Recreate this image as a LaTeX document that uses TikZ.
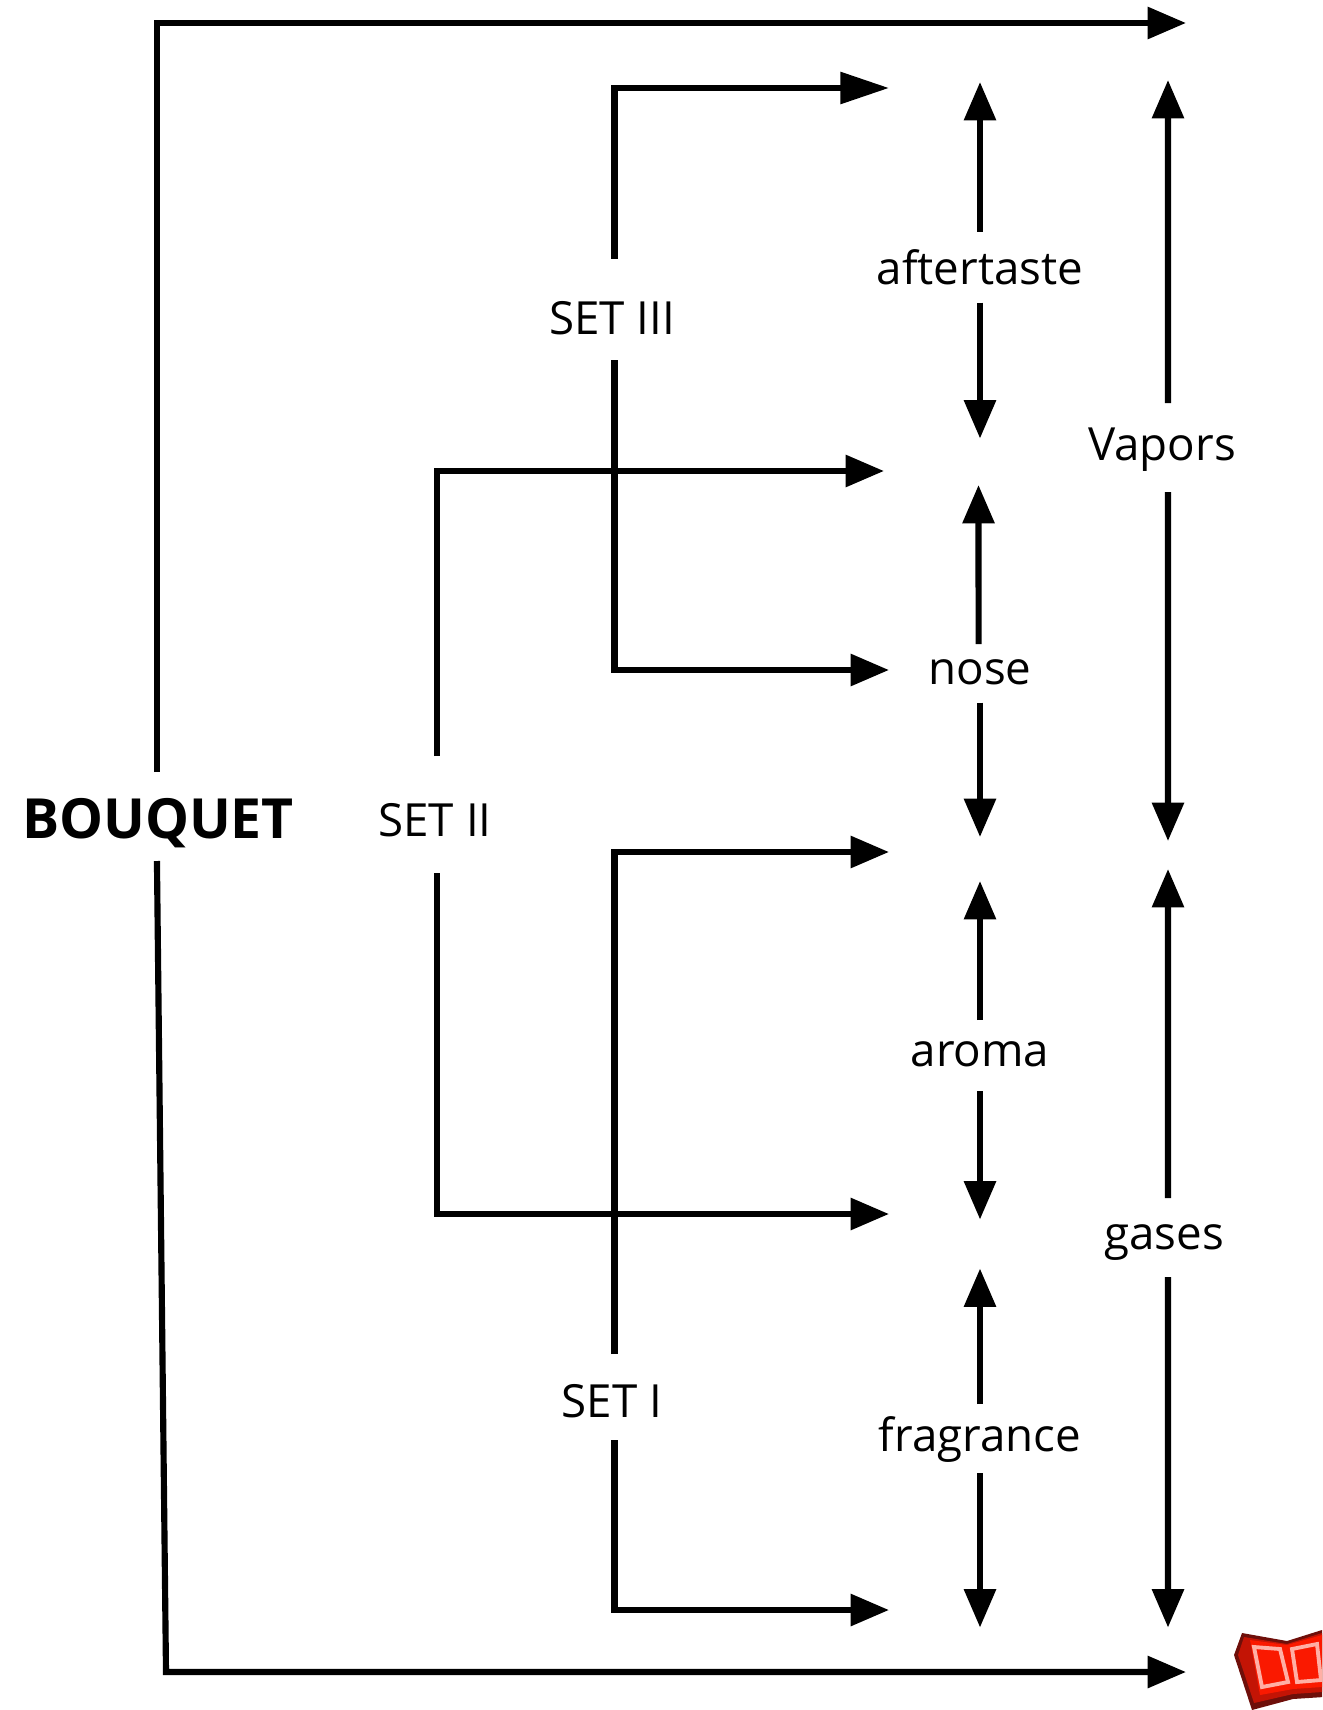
\documentclass[tikz,border=0pt]{standalone}
\usepackage{fontspec}
\setmainfont{Open Sans}
\usetikzlibrary{arrows.meta,positioning}
\definecolor{bookred}{RGB}{250,25,0}
\definecolor{bookmid}{RGB}{195,20,5}
\definecolor{bookdark}{RGB}{110,15,10}
\definecolor{bookpink}{RGB}{255,175,165}
\begin{document}
\begin{tikzpicture}[x=0.02cm, y=-0.02cm, line width=3.5pt, >={Triangle[length=21.8pt,width=17.6pt]},
  flusso/.style={draw, ->},
  etichetta/.style 2 args={anchor=base, inner sep=0pt, outer sep=0pt, font=\fontsize{26}{26}\selectfont, text height=#1*0.02cm, text depth=#2*0.02cm}]
\useasboundingbox (0,0) rectangle (1322,1710);
% etichette
\node[etichetta={66}{23}, font=\fontsize{31.5}{31.5}\selectfont\bfseries] (bouquet) at (158,838) {BOUQUET};
\node[etichetta={80}{37}] (set2) at (435,836) {SET II};
\node[etichetta={75.5}{26}] (set3) at (612,334) {SET III};
\node[etichetta={63}{23}] (set1) at (612,1417) {SET I};
\node[etichetta={52.5}{18.5}] (aftertaste) at (980,284) {aftertaste};
\node[etichetta={40}{18.5}] (nose) at (980,684) {nose};
\node[etichetta={46}{25}] (aroma) at (980,1066) {aroma};
\node[etichetta={47}{22}] (fragrance) at (980,1451) {fragrance};
\node[etichetta={57}{32}] (vapors) at (1162,460) {Vapors};
\node[etichetta={51}{28}] (gases) at (1164,1249) {gases};
% estremi delle frecce
\coordinate (topend) at (1186,23);
\coordinate (botend) at (1186,1672);
\coordinate (botcorner) at (166,1672);
\coordinate (s3a) at (889,88);
\coordinate (s2a) at (884,471);
\coordinate (s3b) at (889,670);
\coordinate (s1a) at (889,852);
\coordinate (s2b) at (889,1214);
\coordinate (s1b) at (889,1610);
% bouquet
\draw[flusso] ([xshift=-0.6pt]bouquet.north) |- (topend);
\draw[flusso] ([xshift=-0.6pt]bouquet.south) -- (botcorner) -- (botend);
% set
\draw[draw, -{Triangle[length=27.7pt,width=17.6pt]}] ([xshift=1.4pt]set3.north) |- (s3a);
\draw[flusso] ([xshift=1.4pt]set3.south) |- (s3b);
\draw[flusso] ([xshift=1.1pt]set2.north) |- (s2a);
\draw[flusso] ([xshift=1.1pt]set2.south) |- (s2b);
\draw[flusso] ([xshift=1.4pt]set1.north) |- (s1a);
\draw[flusso] ([xshift=1.4pt]set1.south) |- (s1b);
% colonna interna
\draw[flusso] (aftertaste.north) -- (980,82);
\draw[flusso] (aftertaste.south) -- (980,438.5);
\draw[flusso] ([xshift=-0.8pt]nose.north) -- (978.5,485);
\draw[flusso] (nose.south) -- (980,837);
\draw[flusso] (aroma.north) -- (980,881);
\draw[flusso] (aroma.south) -- (980,1219.5);
\draw[flusso] (fragrance.north) -- (980,1268.5);
\draw[flusso] (fragrance.south) -- (980,1627.5);
% colonna esterna
\draw[flusso] ([xshift=3.4pt]vapors.north) -- (1168,80);
\draw[flusso] ([xshift=3.4pt]vapors.south) -- (1168,841);
\draw[flusso] ([xshift=2.3pt]gases.north) -- (1168,869);
\draw[flusso] ([xshift=2.3pt]gases.south) -- (1168,1627.5);
% libro
\begin{scope}[line width=0pt]
\clip (0,0) rectangle (1322,1710);
\fill[bookdark] (1242,1633) -- (1287,1641) -- (1322,1630) -- (1324,1697) -- (1293,1699) -- (1252,1710) -- (1234,1655) -- cycle;
\fill[bookmid] (1244,1637) -- (1287,1644) -- (1322,1633) -- (1322,1692) -- (1293,1694) -- (1254,1703) -- (1238,1655) -- cycle;
\fill[bookred] (1250,1640) -- (1287,1645) -- (1322,1635) -- (1322,1687) -- (1293,1689) -- (1260,1695) -- cycle;
\draw[bookpink, line width=2.2pt] (1254,1647) -- (1280,1649) -- (1288,1682) -- (1262,1687) -- cycle;
\draw[bookpink, line width=2.2pt] (1292,1649) -- (1317,1644) -- (1321,1680) -- (1297,1682) -- cycle;
\end{scope}
\end{tikzpicture}
\end{document}
